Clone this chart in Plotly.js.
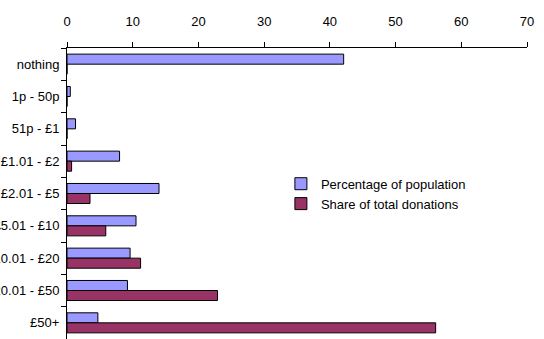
<!DOCTYPE html>
<html><head><meta charset="utf-8">
<script src="https://cdn.plot.ly/plotly-3.0.1.min.js"></script>
<style>body{margin:0;background:#fff}#c{width:544px;height:339px}</style>
</head><body><div id="c"></div>
<script>
const categories = ["nothing","1p - 50p","51p - £1","£1.01 - £2","£2.01 - £5","£5.01 - £10","£10.01 - £20","£20.01 - £50","£50+"];
const populationPct = [42.1, 0.5, 1.3, 8.0, 14.0, 10.5, 9.6, 9.2, 4.7];
const donationShare = [0, 0, 0, 0.7, 3.5, 5.9, 11.2, 22.9, 56.1];
const xTicks = [0,10,20,30,40,50,60,70];

const font = {family: '"Liberation Sans", Arial, sans-serif', size: 13, color: '#000'};
const data = [
  {type:'bar', orientation:'h', name:'Percentage of population', y:categories, x:populationPct,
   marker:{color:'#9999FF', line:{color:'#000', width:1}}},
  {type:'bar', orientation:'h', name:'Share of total donations', y:categories, x:donationShare,
   marker:{color:'#993366', line:{color:'#000', width:1}}}
];
const layout = {
  width:544, height:339, margin:{l:67, r:17, t:48, b:0},
  paper_bgcolor:'#fff', plot_bgcolor:'#fff', font:font,
  barmode:'group', bargap:0.38, bargroupgap:0,
  showlegend:true,
  legend:{x:0.465, y:0.585, xanchor:'left', yanchor:'top', bgcolor:'rgba(0,0,0,0)', font:font, tracegroupgap:0, itemwidth:30},
  xaxis:{side:'top', range:[0,70], tickvals:xTicks, ticktext:xTicks.map(String), showgrid:false, zeroline:false,
         showline:true, linecolor:'#000', linewidth:1, ticks:'outside', ticklen:5, tickcolor:'#000', ticklabelstandoff:11, automargin:false, fixedrange:true},
  yaxis:{type:'category', autorange:'reversed', showgrid:false, zeroline:false, showline:true, linecolor:'#000', linewidth:1,
         ticks:'outside', ticklen:5, tickcolor:'#000', tickson:'boundaries', ticklabelstandoff:4, automargin:false, fixedrange:true}
};
Plotly.newPlot('c', data, layout, {staticPlot:true});
</script></body></html>
